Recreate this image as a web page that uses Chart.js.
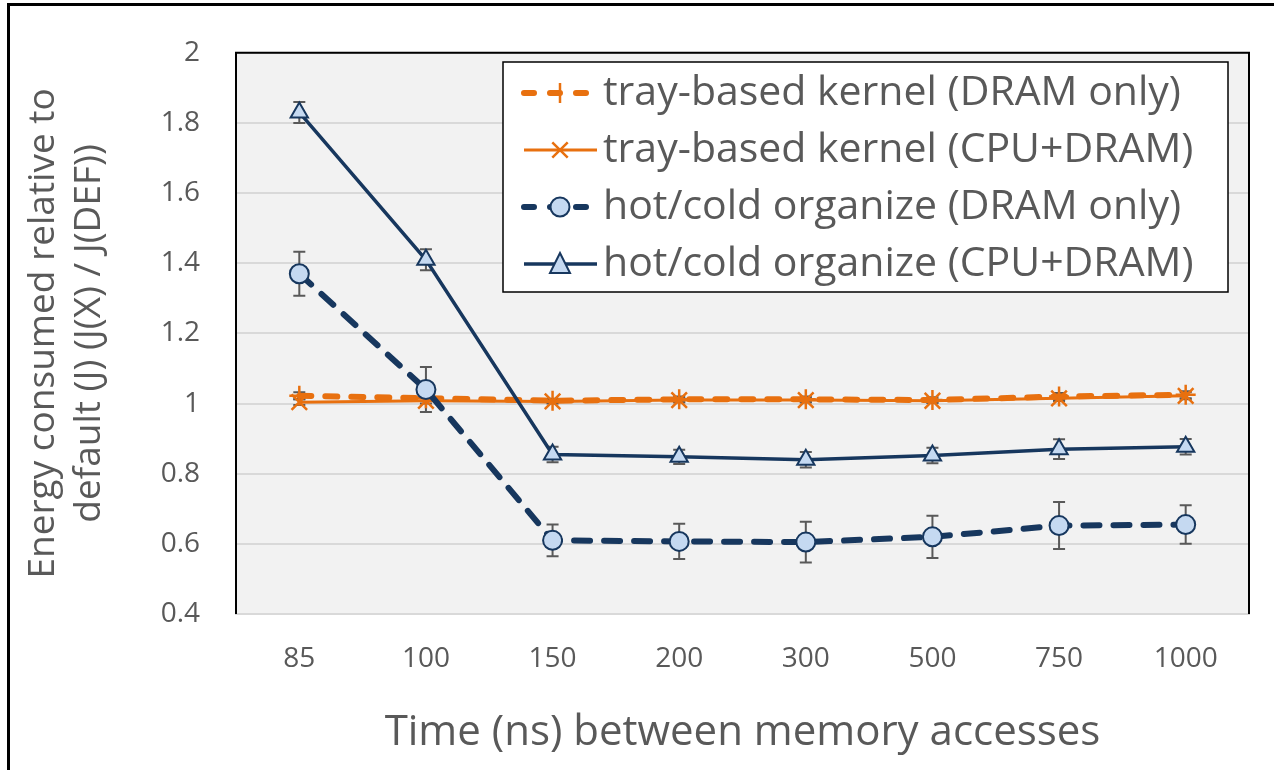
<!DOCTYPE html>
<html>
<head>
<meta charset="utf-8">
<script src="https://cdn.jsdelivr.net/npm/chart.js@4.4.1/dist/chart.umd.min.js"></script>
<style>
  html, body { margin: 0; padding: 0; background: #ffffff; }
  #wrap { width: 1274px; height: 770px; position: relative; }
</style>
</head>
<body>
<div id="wrap"><canvas id="energyChart"></canvas></div>
<script>

const categories = ['85', '100', '150', '200', '300', '500', '750', '1000'];

const trayDramOnly = [1.022, 1.015, 1.008, 1.012, 1.012, 1.010, 1.020, 1.025];
const trayCpuDram = [1.004, 1.008, 1.006, 1.010, 1.010, 1.008, 1.015, 1.022];
const hotColdDramOnly = [1.37, 1.04, 0.61, 0.607, 0.605, 0.62, 0.652, 0.655];
const hotColdCpuDram = [1.83, 1.41, 0.855, 0.848, 0.84, 0.852, 0.87, 0.877];

const trayDramOnlyErr = [0.010, 0.008, 0.006, 0.008, 0.008, 0.008, 0.010, 0.010];
const trayCpuDramErr = [0.008, 0.008, 0.006, 0.006, 0.006, 0.006, 0.008, 0.010];
const hotColdDramOnlyErr = [0.063, 0.064, 0.045, 0.05, 0.058, 0.06, 0.067, 0.055];
const hotColdCpuDramErr = [0.03, 0.03, 0.022, 0.02, 0.022, 0.022, 0.028, 0.022];

const yTicks = [0.4, 0.6, 0.8, 1, 1.2, 1.4, 1.6, 1.8, 2];

const seriesNames = [
    'tray-based kernel (DRAM only)',
    'tray-based kernel (CPU+DRAM)',
    'hot/cold organize (DRAM only)',
    'hot/cold organize (CPU+DRAM)'
];


const ORANGE = '#e8700f';
const NAVY = '#17375e';
const LIGHTBLUE = '#c5d9f1';
const TEXT = '#595959';
const FONT = '"Open Sans"';


const drawMarker = (ctx, style, x, y, r) => {
    if (style === 'circle') {
        ctx.arc(x, y, r, 0, Math.PI * 2);
    } else if (style === 'triangle') {
        const h = r * 2;
        ctx.moveTo(x, y - h * 0.55);
        ctx.lineTo(x + r, y + h * 0.45);
        ctx.lineTo(x - r, y + h * 0.45);
        ctx.closePath();
    } else if (style === 'cross') {
        ctx.moveTo(x, y - r); ctx.lineTo(x, y + r);
    } else if (style === 'crossRot') {
        ctx.moveTo(x - r * 0.7, y - r * 0.7); ctx.lineTo(x + r * 0.7, y + r * 0.7);
        ctx.moveTo(x - r * 0.7, y + r * 0.7); ctx.lineTo(x + r * 0.7, y - r * 0.7);
    }
};


const errorBarsPlugin = {
    id: 'errorBars',
    beforeDatasetsDraw(chart) {
        const ctx = chart.ctx;
        const yScale = chart.scales.y;
        ctx.save();
        ctx.strokeStyle = '#595959';
        ctx.lineWidth = 2;
        chart.data.datasets.forEach((ds, di) => {
            const meta = chart.getDatasetMeta(di);
            ds.data.forEach((v, i) => {
                const x = meta.data[i].x;
                const e = ds.errors[i];
                const yTop = yScale.getPixelForValue(v + e);
                const yBot = yScale.getPixelForValue(v - e);
                ctx.beginPath();
                ctx.moveTo(x, yTop); ctx.lineTo(x, yBot);
                ctx.moveTo(x - 6, yTop); ctx.lineTo(x + 6, yTop);
                ctx.moveTo(x - 6, yBot); ctx.lineTo(x + 6, yBot);
                ctx.stroke();
            });
        });
        ctx.restore();
    }
};


const frameAndBackgroundPlugin = {
    id: 'frameAndBackground',
    beforeDraw(chart) {
        const { ctx, chartArea } = chart;
        ctx.save();
        ctx.fillStyle = '#f2f2f2';
        ctx.fillRect(chartArea.left, chartArea.top, chartArea.right - chartArea.left, chartArea.bottom - chartArea.top);
        ctx.restore();
    },
    afterDatasetsDraw(chart) {
        const { ctx, chartArea } = chart;
        ctx.save();
        // plot area border
        ctx.strokeStyle = '#000000';
        ctx.lineWidth = 2;
        ctx.beginPath();
        ctx.moveTo(chartArea.left, chartArea.bottom);
        ctx.lineTo(chartArea.left, chartArea.top);
        ctx.lineTo(chartArea.right, chartArea.top);
        ctx.lineTo(chartArea.right, chartArea.bottom);
        ctx.stroke();
        // outer frame
        ctx.lineWidth = 3;
        ctx.beginPath();
        ctx.moveTo(8.5, 770);
        ctx.lineTo(8.5, 4.5);
        ctx.lineTo(1274, 4.5);
        ctx.stroke();
        ctx.restore();
    }
};


const boxLegendPlugin = {
    id: 'boxLegend',
    afterDraw(chart) {
        const ctx = chart.ctx;
        const box = { left: 503, top: 62, width: 725, height: 230 };
        ctx.save();
        ctx.fillStyle = '#ffffff';
        ctx.fillRect(box.left, box.top, box.width, box.height);
        ctx.strokeStyle = '#000000';
        ctx.lineWidth = 1.5;
        ctx.strokeRect(box.left, box.top, box.width, box.height);

        const rowY = [93, 150, 207, 264];
        chart.data.datasets.forEach((ds, di) => {
            const y = rowY[di];
            ctx.save();
            ctx.strokeStyle = ds.borderColor;
            ctx.lineWidth = ds.borderWidth;
            ctx.lineCap = ds.borderCapStyle || 'butt';
            ctx.setLineDash(ds.borderDash && ds.borderDash.length ? [10, 16] : []);
            ctx.beginPath();
            ctx.moveTo(524, y);
            ctx.lineTo(597, y);
            ctx.stroke();
            ctx.restore();

            ctx.fillStyle = ds.pointBackgroundColor;
            ctx.strokeStyle = ds.pointBorderColor;
            ctx.lineWidth = ds.pointBorderWidth;
            ctx.beginPath();
            drawMarker(ctx, ds.pointStyle, 560, y, ds.pointRadius);
            if (ds.pointStyle === 'circle' || ds.pointStyle === 'triangle') ctx.fill();
            ctx.stroke();

            ctx.fillStyle = TEXT;
            ctx.font = `41px ${FONT}`;
            ctx.textBaseline = 'middle';
            ctx.textAlign = 'left';
            ctx.fillText(ds.label, 603, y);
        });
        ctx.restore();
    }
};


const buildDatasets = () => {
    return [
        {
            label: seriesNames[0],
            data: trayDramOnly,
            errors: trayDramOnlyErr,
            borderColor: ORANGE,
            borderWidth: 6,
            borderDash: [12, 14],
            borderCapStyle: 'round',
            pointStyle: 'cross',
            pointRadius: 10,
            pointBorderWidth: 2.5,
            pointBorderColor: ORANGE,
            pointBackgroundColor: ORANGE,
            order: 4
        },
        {
            label: seriesNames[1],
            data: trayCpuDram,
            errors: trayCpuDramErr,
            borderColor: ORANGE,
            borderWidth: 3,
            pointStyle: 'crossRot',
            pointRadius: 11,
            pointBorderWidth: 2.5,
            pointBorderColor: ORANGE,
            pointBackgroundColor: ORANGE,
            order: 3
        },
        {
            label: seriesNames[2],
            data: hotColdDramOnly,
            errors: hotColdDramOnlyErr,
            borderColor: NAVY,
            borderWidth: 6,
            borderDash: [16, 14],
            borderCapStyle: 'round',
            pointStyle: 'circle',
            pointRadius: 9.5,
            pointBorderWidth: 2,
            pointBorderColor: NAVY,
            pointBackgroundColor: LIGHTBLUE,
            order: 2
        },
        {
            label: seriesNames[3],
            data: hotColdCpuDram,
            errors: hotColdCpuDramErr,
            borderColor: NAVY,
            borderWidth: 3.5,
            pointStyle: 'triangle',
            pointRadius: 10,
            pointBorderWidth: 2,
            pointBorderColor: NAVY,
            pointBackgroundColor: LIGHTBLUE,
            order: 1
        }
    ];
};


const drawEnergyChart = () => {

    const canvas = document.getElementById('energyChart');

    new Chart(canvas, {
        type: 'line',
        data: {
            labels: categories,
            datasets: buildDatasets()
        },
        options: {
            responsive: true,
            maintainAspectRatio: false,
            animation: false,
            devicePixelRatio: 1,
            layout: {
                padding: { left: 0, right: 25, top: 44, bottom: 0 }
            },
            plugins: {
                legend: { display: false },
                tooltip: { enabled: false }
            },
            elements: {
                line: { tension: 0 }
            },
            scales: {
                x: {
                    offset: true,
                    grid: { display: false, drawTicks: false },
                    border: { display: true, color: '#d9d9d9', width: 2 },
                    ticks: {
                        color: TEXT,
                        font: { family: FONT, size: 28 },
                        padding: 28
                    },
                    title: {
                        display: true,
                        text: 'Time (ns) between memory accesses',
                        color: TEXT,
                        font: { family: FONT, size: 42 },
                        padding: { top: 0, bottom: 12 }
                    },
                    afterFit: (scale) => { scale.height = 156; }
                },
                y: {
                    min: 0.4,
                    max: 2,
                    afterBuildTicks: (scale) => {
                        scale.ticks = yTicks.map((v) => ({ value: v }));
                    },
                    grid: { color: '#d9d9d9', lineWidth: 2, drawTicks: false },
                    border: { display: false },
                    ticks: {
                        color: TEXT,
                        font: { family: FONT, size: 28 },
                        padding: 36,
                        callback: (value) => String(Number(value.toFixed(1)))
                    },
                    title: {
                        display: true,
                        text: ['Energy consumed relative to', 'default (J) (J(X) / J(DEF))'],
                        color: TEXT,
                        font: { family: FONT, size: 37, lineHeight: 1.25 },
                        padding: { top: 20, bottom: 0 }
                    },
                    afterFit: (scale) => { scale.width = 236; }
                }
            }
        },
        plugins: [frameAndBackgroundPlugin, errorBarsPlugin, boxLegendPlugin]
    });

    return;
};


drawEnergyChart();

</script>
</body>
</html>
